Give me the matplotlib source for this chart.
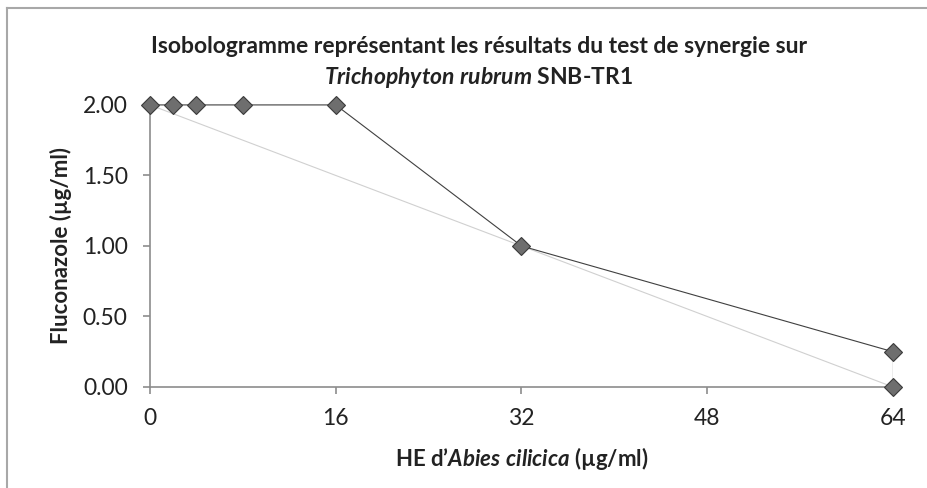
import matplotlib
matplotlib.use("Agg")
import matplotlib.pyplot as plt
from matplotlib.lines import Line2D

plt.rcParams.update({
    "font.family": "Lato",
    "mathtext.fontset": "custom",
    "mathtext.it": "Lato:italic:bold",
    "mathtext.rm": "Lato:bold",
    "mathtext.bf": "Lato:bold",
})

# combinations HE / fluconazole (µg/ml)
he_conc = [0, 2, 4, 8, 16, 32, 64]
fluco_conc = [2.0, 2.0, 2.0, 2.0, 2.0, 1.0, 0.25]
# additive line (MIC alone of each compound)
add_x = [0, 64]
add_y = [2.0, 0.0]
mic_he = [64, 64]
mic_he_y = [0.25, 0.0]

x_ticks = [0, 16, 32, 48, 64]
y_ticks = [0.0, 0.5, 1.0, 1.5, 2.0]

AX = "#8c8c8c"
TXT = "#222222"
fig = plt.figure(figsize=(9.28, 4.88), dpi=100)
ax = fig.add_axes([0.1616, 0.207, 0.8006, 0.578])

ax.plot(add_x, add_y, color="#d0d0d0", lw=0.8, zorder=2)
ax.plot(mic_he, mic_he_y, color="#a6a6a6", lw=1.0, zorder=2)
ax.plot(he_conc, fluco_conc, color="#404040", lw=0.8, marker="D", ms=9,
        mfc="#6e6e6e", mec="#3a3a3a", mew=0.8, zorder=3, clip_on=False)
ax.plot([64], [0.0], ls="none", marker="D", ms=9, mfc="#6e6e6e",
        mec="#3a3a3a", mew=0.8, zorder=3, clip_on=False)

ax.set_xlim(0, 64)
ax.set_ylim(0, 2.0)
ax.set_xticks(x_ticks)
ax.set_yticks(y_ticks)
ax.set_yticklabels([f"{v:.2f}" for v in y_ticks])
for s in ["top", "right"]:
    ax.spines[s].set_visible(False)
for s in ["left", "bottom"]:
    ax.spines[s].set_color(AX)
    ax.spines[s].set_linewidth(1.2)
ax.tick_params(direction="out", length=5, width=1.2, color=AX,
               labelsize=16.5, labelcolor=TXT)
ax.tick_params(axis="y", pad=11)
ax.tick_params(axis="x", pad=10)

ax.set_ylabel("Fluconazole (µg/ml)", fontsize=16, fontweight="bold",
              color=TXT, labelpad=8)
ax.set_xlabel(r"HE d’$Abies\ cilicica$ (µg/ml)", fontsize=16,
              fontweight="bold", color=TXT, labelpad=12)

fig.text(0.516, 0.904, "Isobologramme représentant les résultats du test de synergie sur",
         ha="center", va="center", fontsize=16.5, fontweight="bold", color=TXT)
fig.text(0.516, 0.842, r"$Trichophyton\ rubrum$ SNB-TR1",
         ha="center", va="center", fontsize=16.5, fontweight="bold", color=TXT)

# chart frame (left and top edges only visible)
fig.add_artist(Line2D([0.0075, 0.0075], [0.0, 0.984], transform=fig.transFigure,
                      color="#a8a8a8", lw=1.5))
fig.add_artist(Line2D([0.0075, 1.0], [0.984, 0.984], transform=fig.transFigure,
                      color="#a8a8a8", lw=1.5))

fig.savefig("out.png", dpi=100)
